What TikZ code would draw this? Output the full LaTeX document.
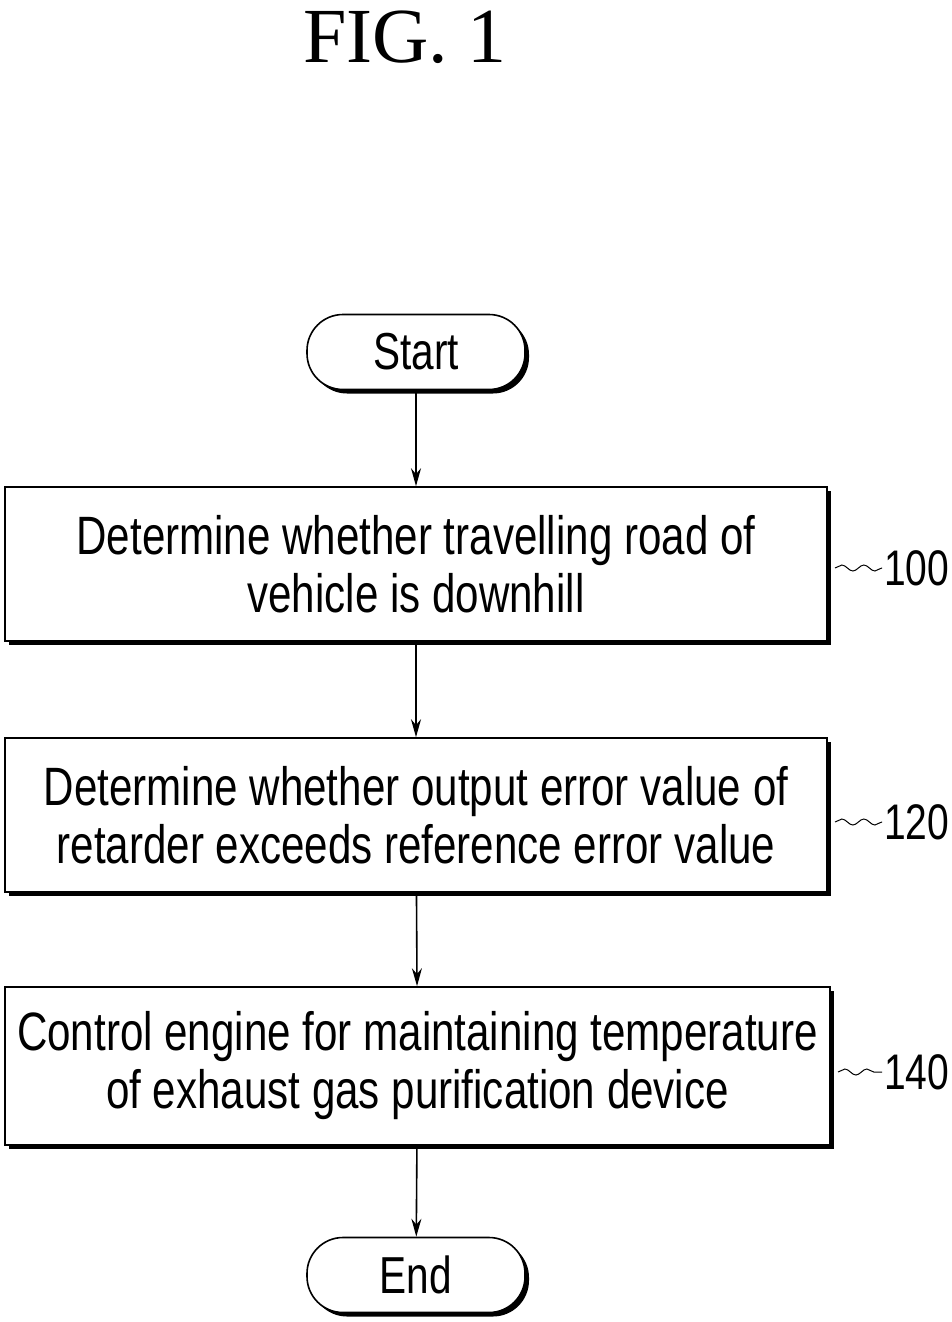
\documentclass[tikz,border=0pt]{standalone}
\usepackage{fontspec}
\setmainfont{Liberation Serif}
\newfontfamily\boxfont{Liberation Sans}[FakeStretch=0.78]
\usetikzlibrary{shadows,arrows.meta,decorations.pathmorphing}
\begin{document}
\begin{tikzpicture}[x=1pt,y=-1pt,
  sh/.style={draw,line width=1.6pt,fill=white,drop shadow={shadow xshift=4pt,shadow yshift=-4pt,fill=black,opacity=1}},
  box/.style={sh,minimum width=822pt,minimum height=154pt,align=center,inner sep=0pt,font=\boxfont\fontsize{54}{58}\selectfont},
  term/.style={sh,rounded corners=36pt,minimum width=218pt,minimum height=75pt,inner sep=0pt,font=\boxfont\fontsize{52}{56}\selectfont},
  arr/.style={line width=1.6pt,-{Stealth[length=18pt,width=10pt]}},
  lab/.style={font=\boxfont\fontsize{50}{54}\selectfont,anchor=west,inner sep=0pt},
  sq/.style={line width=1pt,decorate,decoration={snake,amplitude=3pt,segment length=22pt}}]
\useasboundingbox (0,0) rectangle (951,1322);
\node[font=\fontsize{78}{84}\selectfont] (title) at (405,37) {FIG. 1};
\node[term] (start) at (416,352) {Start};
\node[box] (b1) at (416,564) {Determine whether travelling road of\\vehicle is downhill};
\node[box] (b2) at (416,815) {Determine whether output error value of\\retarder exceeds reference error value};
\node[box,minimum width=825pt,minimum height=158pt] (b3) at (417.5,1066) {Control engine for maintaining temperature\\of exhaust gas purification device};
\node[term] (end) at (416,1275) {End};
\draw[arr] (start) -- (b1);
\draw[arr] (b1) -- (b2);
\draw[arr] (b2) -- (b3);
\draw[arr] (b3) -- (end);
\node[lab] (l1) at (884,568) {100};
\node[lab] (l2) at (884,822) {120};
\node[lab] (l3) at (884,1072) {140};
\coordinate (s1) at (835,568); \coordinate (s2) at (835,822); \coordinate (s3) at (838,1072);
\draw[sq] (s1) -- ([xshift=-2pt]l1.west);
\draw[sq] (s2) -- ([xshift=-2pt]l2.west);
\draw[sq] (s3) -- ([xshift=-2pt]l3.west);
\end{tikzpicture}
\end{document}
